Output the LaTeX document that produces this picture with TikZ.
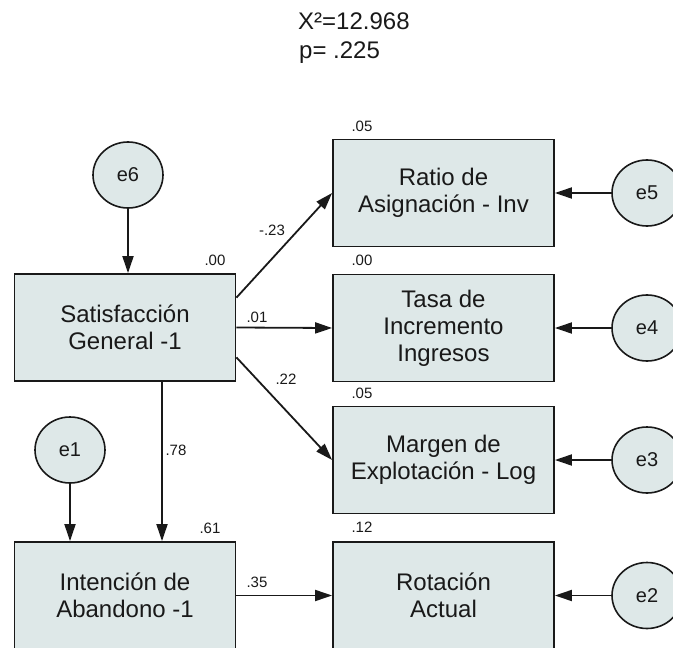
\documentclass[tikz,border=0pt]{standalone}
\usepackage{fontspec}
\setmainfont{Liberation Sans}
\usetikzlibrary{arrows.meta, shapes.geometric}

\definecolor{boxfill}{RGB}{222,232,232}
\definecolor{ink}{RGB}{25,25,25}

\begin{document}
\begin{tikzpicture}[x=1pt, y=-1pt,
  var/.style={draw=ink, line width=1.8pt, fill=boxfill, minimum width=221pt, minimum height=107pt,
    align=center, font=\fontsize{24}{27}\selectfont, text=ink, inner sep=0pt},
  err/.style={ellipse, draw=ink, line width=1.6pt, fill=boxfill, minimum width=70pt, minimum height=66pt,
    font=\fontsize{20}{22}\selectfont, text=ink, inner sep=0pt},
  link/.style={draw=ink, line width=1.8pt, -{Triangle[length=17pt,width=11pt]}},
  coef/.style={font=\fontsize{15}{15}\selectfont, text=ink, inner sep=0pt}]
\useasboundingbox (0,0) rectangle (673,648);

% fit indices
\node[anchor=base west, inner sep=0pt, text=ink, font=\fontsize{24}{24}\selectfont] (chi) at (298,29) {X²=12.968};
\node[anchor=base west, inner sep=0pt, text=ink, font=\fontsize{24}{24}\selectfont] (pval) at (299,58) {p= .225};

% observed variables
\node[var] (sat) at (125,327.5) {Satisfacción\\General -1};
\node[var] (int) at (125,595.5) {Intención de\\Abandono -1};
\node[var] (ratio) at (443.5,193) {Ratio de\\Asignación - Inv};
\node[var] (tasa) at (443.5,328) {Tasa de\\Incremento\\Ingresos};
\node[var] (marg) at (443.5,460) {Margen de\\Explotación - Log};
\node[var] (rot) at (443.5,595.5) {Rotación\\Actual};

% errors
\node[err] (e6) at (128,175) {e6};
\node[err] (e1) at (70,450) {e1};
\node[err] (e5) at (647,193) {e5};
\node[err] (e4) at (647,328) {e4};
\node[err] (e3) at (647,460) {e3};
\node[err] (e2) at (647,595.5) {e2};

% paths
\draw[link] (e6.south) -- (e6.south |- sat.north);
\draw[link] (e1.south) -- (e1.south |- int.north);
\draw[link] ([xshift=37pt]sat.south) -- ([xshift=37pt]int.north);
\draw[link] (sat.15) -- (ratio.west);
\draw[link] (sat.east) -- (tasa.west);
\draw[link] (sat.-15) -- (marg.west);
\draw[link] (int.east) -- (rot.west);
\draw[link] (e5.west) -- (ratio.east);
\draw[link] (e4.west) -- (tasa.east);
\draw[link] (e3.west) -- (marg.east);
\draw[link] (e2.west) -- (rot.east);

% squared multiple correlations
\node[coef] (r2sat) at (215,260) {.00};
\node[coef] (r2ratio) at (362,126) {.05};
\node[coef] (r2tasa) at (362,260) {.00};
\node[coef] (r2marg) at (362,393) {.05};
\node[coef] (r2rot) at (362,527) {.12};
\node[coef] (r2int) at (210,528) {.61};

% path coefficients
\node[coef] (b1) at (272,230) {-.23};
\node[coef] (b2) at (257,317) {.01};
\node[coef] (b3) at (286,379) {.22};
\node[coef] (b4) at (176,450) {.78};
\node[coef] (b5) at (257,582) {.35};
\end{tikzpicture}
\end{document}
